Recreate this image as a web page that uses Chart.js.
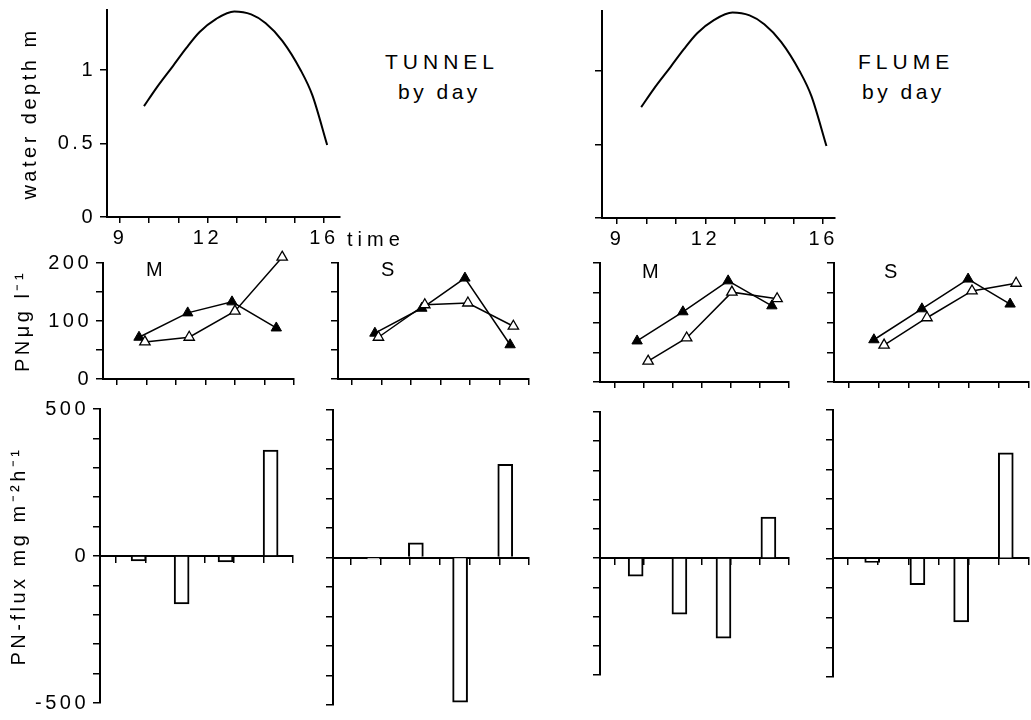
<!DOCTYPE html>
<html>
<head>
<meta charset="utf-8">
<title>PN tunnel / flume by day</title>
<script src="https://cdn.jsdelivr.net/npm/chart.js@4.4.1/dist/chart.umd.min.js"></script>
<style>
  body { margin: 0; background: #fff; }
  #page { position: relative; width: 1031px; height: 720px; overflow: hidden;
          font-family: "Liberation Sans", Arial, sans-serif; color: #000; }
  #page canvas { position: absolute; }
  .txt { position: absolute; font-size: 20px; line-height: 21px; letter-spacing: 3.5px; white-space: nowrap; }
  .big { font-size: 21px; letter-spacing: 5px; }
</style>
</head>
<body>
<div id="page">
  <canvas id="depthTunnel"></canvas>
  <canvas id="depthFlume"></canvas>
  <canvas id="pnTunnelM"></canvas>
  <canvas id="pnTunnelS"></canvas>
  <canvas id="pnFlumeM"></canvas>
  <canvas id="pnFlumeS"></canvas>
  <canvas id="fluxTunnelM"></canvas>
  <canvas id="fluxTunnelS"></canvas>
  <canvas id="fluxFlumeM"></canvas>
  <canvas id="fluxFlumeS"></canvas>

  <div class="txt big" style="left:385px;top:51px">TUNNEL</div>
  <div class="txt" style="left:398px;top:81px;font-size:21px">by day</div>
  <div class="txt big" style="left:858px;top:51px">FLUME</div>
  <div class="txt" style="left:862px;top:81px;font-size:21px">by day</div>
  <div class="txt" style="left:347px;top:229px;letter-spacing:5px">time</div>
  <div class="txt" style="left:146px;top:259px">M</div>
  <div class="txt" style="left:381px;top:259px">S</div>
  <div class="txt" style="left:642px;top:261px">M</div>
  <div class="txt" style="left:884px;top:261px">S</div>
</div>

<script>
//data --------------------------------------------------------------------------------

//water depth (m) over the day, same tide curve in both set-ups
var depthTime = [9.82, 10.25, 10.82, 11.27, 11.73, 12.3, 12.92, 13.5, 14.0, 14.57, 15.2, 15.6, 16.11];
var depthM    = [0.755, 0.88, 1.03, 1.15, 1.26, 1.35, 1.40, 1.38, 1.32, 1.20, 1.00, 0.83, 0.49];

//PN (ug/l), filled triangles and open triangles
var tunMFillT = [9.75, 11.4, 12.9, 14.4];
var tunMFill  = [72, 114, 133, 88];
var tunMOpenT = [9.95, 11.45, 13.0, 14.6];
var tunMOpen  = [64, 72, 117, 210];

var tunSFillT = [9.78, 11.37, 12.83, 14.36];
var tunSFill  = [79, 122, 174, 59];
var tunSOpenT = [9.9, 11.47, 12.93, 14.47];
var tunSOpen  = [72, 128, 131, 91];

var fluMFillT = [9.76, 11.34, 12.9, 14.41];
var fluMFill  = [69, 118, 170, 128];
var fluMOpenT = [10.14, 11.47, 13.03, 14.59];
var fluMOpen  = [35, 74, 151, 140];

var fluSFillT = [9.83, 11.43, 12.97, 14.37];
var fluSFill  = [71, 123, 173, 131];
var fluSOpenT = [10.17, 11.6, 13.1, 14.57];
var fluSOpen  = [62, 108, 153, 166];

//PN-flux (mg m-2 h-1)
var tunMFluxT = [9.76, 11.22, 12.71, 14.24];
var tunMFlux  = [-17, -163, -20, 360];
var tunSFluxT = [9.76, 11.19, 12.68, 14.2];
var tunSFlux  = [-5, 50, -490, 316];
var fluMFluxT = [9.71, 11.22, 12.74, 14.29];
var fluMFlux  = [-62, -192, -274, 140];
var fluSFluxT = [9.8, 11.3, 12.75, 14.23];
var fluSFlux  = [-14, -89, -214, 356];

//tick values
var hourTicks   = [9, 10, 11, 12, 13, 14, 15, 16];
var hourLabels  = [9, 12, 16];
var hourTicks15 = [9, 10, 11, 12, 13, 14, 15];
var depthTicks  = [0, 0.5, 1];
var pnTicks     = [0, 50, 100, 150, 200];
var pnLabels    = [0, 100, 200];
var fluxTicks   = [-500, -400, -300, -200, -100, 0, 100, 200, 300, 400, 500];
var fluxLabels  = [-500, 0, 500];


//general look ---------------------------------------------------------------------
Chart.defaults.font.family = '"Liberation Sans", Arial, sans-serif';
Chart.defaults.font.size = 20;
Chart.defaults.color = '#000';
Chart.defaults.animation = false;
Chart.defaults.plugins.legend.display = false;
Chart.defaults.plugins.tooltip.enabled = false;

//the printed figure uses widely spaced lettering
Chart.register({
  id: 'wideText',
  beforeUpdate: function(chart) { chart.ctx.letterSpacing = '3.5px'; },
  beforeDraw: function(chart) { chart.ctx.letterSpacing = '3.5px'; }
});

var PAD_T = 16;
var PAD_R = 20;

//size and place a canvas so that its plot area lands on L,T,R,B
function place(id, L, T, R, B, gl, gb) {
  var c = document.getElementById(id);
  c.width = R - L + gl + PAD_R;
  c.height = B - T + PAD_T + gb;
  c.style.left = (L - gl) + 'px';
  c.style.top = (T - PAD_T) + 'px';
  return c;
}

function pts(xs, ys) {
  return xs.map(function(x, i) { return {x: x, y: ys[i]}; });
}

function yScale(min, max, tickVals, labelVals, width, title, titlePad) {
  return {
    type: 'linear', min: min, max: max,
    afterBuildTicks: function(s) { s.ticks = tickVals.map(function(v) { return {value: v}; }); },
    afterFit: function(s) { s.width = width; },
    ticks: {
      display: labelVals.length > 0, autoSkip: false, padding: 4,
      callback: function(v) { return labelVals.indexOf(v) > -1 ? String(v) : ''; }
    },
    grid: { drawOnChartArea: false, tickLength: 7, color: '#000', lineWidth: 1.5 },
    border: { color: '#000', width: 2 },
    title: { display: !!title, text: title || '', padding: {top: titlePad || 0, bottom: 0}, font: {size: 20} }
  };
}

function xScale(min, max, tickVals, labelVals, height, atZero) {
  var s = {
    type: 'linear', min: min, max: max, offset: false,
    afterBuildTicks: function(sc) { sc.ticks = tickVals.map(function(v) { return {value: v}; }); },
    afterFit: function(sc) { sc.height = height; },
    ticks: {
      display: labelVals.length > 0, autoSkip: false, maxRotation: 0, padding: 3,
      callback: function(v) { return labelVals.indexOf(v) > -1 ? String(v) : ''; }
    },
    grid: { drawOnChartArea: false, offset: false, tickLength: 6, color: '#000', lineWidth: 1.5 },
    border: { color: '#000', width: 2 }
  };
  if (atZero) s.position = {y: 0};
  return s;
}


//top row: water depth -------------------------------------------------------------
function depthChart(id, L, T, R, B, gl, xmin, xmax, labelled) {
  var c = place(id, L, T, R, B, gl, 40);
  return new Chart(c, {
    type: 'line',
    data: {
      datasets: [{
        data: pts(depthTime, depthM),
        borderColor: '#000', borderWidth: 2, pointRadius: 0,
        cubicInterpolationMode: 'monotone'
      }]
    },
    options: {
      responsive: false,
      layout: { padding: {top: PAD_T, right: PAD_R, left: 0, bottom: 0} },
      scales: {
        x: xScale(xmin, xmax, hourTicks, hourLabels, 40, false),
        y: yScale(0, 1.41, depthTicks, labelled ? depthTicks : [], gl, labelled ? 'water depth m' : '', 18)
      }
    }
  });
}

depthChart('depthTunnel', 107, 10, 340, 217, 107, 8.55, 16.55, true);
depthChart('depthFlume', 602, 11, 835, 218, 20, 8.49, 16.4, false);


//middle row: PN concentration ------------------------------------------------------
function pnChart(id, L, T, R, B, gl, xmin, fillT, fill, openT, open, labelled) {
  var c = place(id, L, T, R, B, gl, 20);
  return new Chart(c, {
    type: 'line',
    data: {
      datasets: [{
        data: pts(openT, open), clip: false,
        borderColor: '#000', borderWidth: 1.5, tension: 0,
        pointStyle: 'triangle', pointRadius: 6,
        pointBackgroundColor: '#fff', pointBorderColor: '#000', pointBorderWidth: 1.3
      }, {
        data: pts(fillT, fill), clip: false,
        borderColor: '#000', borderWidth: 1.5, tension: 0,
        pointStyle: 'triangle', pointRadius: 6,
        pointBackgroundColor: '#000', pointBorderColor: '#000', pointBorderWidth: 1
      }]
    },
    options: {
      responsive: false,
      layout: { padding: {top: PAD_T, right: PAD_R, left: 0, bottom: 0} },
      scales: {
        x: xScale(xmin, 15, hourTicks15, [], 20, false),
        y: yScale(0, 200, pnTicks, labelled ? pnLabels : [], gl, labelled ? 'PNμg l⁻¹' : '', 11)
      }
    }
  });
}

pnChart('pnTunnelM', 103, 263, 294, 379, 103, 8.53, tunMFillT, tunMFill, tunMOpenT, tunMOpen, true);
pnChart('pnTunnelS', 338, 263, 529, 379, 20, 8.53, tunSFillT, tunSFill, tunSOpenT, tunSOpen, false);
pnChart('pnFlumeM', 600, 263, 789, 382, 20, 8.48, fluMFillT, fluMFill, fluMOpenT, fluMOpen, false);
pnChart('pnFlumeS', 834, 263, 1029, 382, 20, 8.5, fluSFillT, fluSFill, fluSOpenT, fluSOpen, false);


//bottom row: PN flux bars ----------------------------------------------------------
function fluxChart(id, L, T, R, B, gl, xmin, ymin, times, vals, labelled) {
  var c = place(id, L, T, R, B, gl, 16);
  return new Chart(c, {
    type: 'bar',
    data: {
      datasets: [{
        data: pts(times, vals),
        backgroundColor: '#fff', borderColor: '#000', borderWidth: 2,
        barThickness: 15
      }]
    },
    options: {
      responsive: false,
      layout: { padding: {top: PAD_T, right: PAD_R, left: 0, bottom: 16} },
      scales: {
        x: xScale(xmin, 15, hourTicks15, [], 10, true),
        y: yScale(ymin, 500, fluxTicks.filter(function(v) { return v >= ymin; }),
                  labelled ? fluxLabels : [], gl, labelled ? 'PN-flux mg m⁻²h⁻¹' : '', 7)
      }
    }
  });
}

fluxChart('fluxTunnelM', 100, 409, 293, 703, 100, 8.45, -500, tunMFluxT, tunMFlux, true);
fluxChart('fluxTunnelS', 333, 410, 529, 705, 20, 8.4, -500, tunSFluxT, tunSFlux, false);
fluxChart('fluxFlumeM', 600, 412, 789, 675, 20, 8.48, -400, fluMFluxT, fluMFlux, false);
fluxChart('fluxFlumeS', 833, 410, 1029, 677, 20, 8.5, -400, fluSFluxT, fluSFlux, false);
</script>
</body>
</html>
